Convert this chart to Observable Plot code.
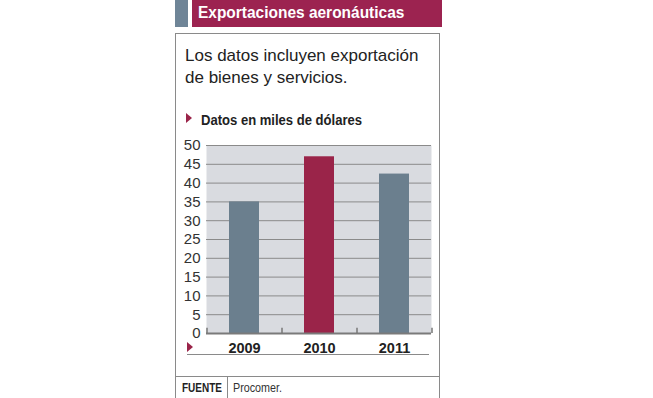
<!DOCTYPE html>
<html>
<head>
<meta charset="utf-8">
<script src="https://cdn.jsdelivr.net/npm/d3@7"></script>
<script src="https://cdn.jsdelivr.net/npm/@observablehq/plot@0.6"></script>
<style>
  html, body { margin: 0; padding: 0; background: #fff; }
  #wrap { position: relative; width: 653px; height: 398px; overflow: hidden; font-family: "Liberation Sans", Arial, sans-serif; }
  .abs { position: absolute; }
  #grayblock { left: 175px; top: 0; width: 13px; height: 27px; background: #6f8597; }
  #titlebar { left: 192px; top: 0; width: 250px; height: 27px; background: #9c2350; }
  #title { left: 198px; top: 3px; color: #fff; font-weight: bold; font-size: 17px; white-space: nowrap; transform-origin: 0 0; transform: scaleX(0.91); }
  #box { left: 175px; top: 33px; width: 265px; height: 370px; border: 1px solid #8a8a8a; box-sizing: border-box; }
  #sub { left: 185px; top: 45px; font-size: 17px; line-height: 22px; color: #222; white-space: nowrap; }
  #unitTri { left: 186px; top: 113px; width: 0; height: 0; border-top: 5.5px solid transparent; border-bottom: 5.5px solid transparent; border-left: 6px solid #9a2449; }
  #unit { left: 201px; top: 111.5px; font-weight: bold; font-size: 14.5px; color: #222; white-space: nowrap; transform-origin: 0 0; transform: scaleX(0.9); }
  #xTri { left: 187px; top: 342px; width: 0; height: 0; border-top: 5px solid transparent; border-bottom: 5px solid transparent; border-left: 6px solid #9a2449; }
  #xline { left: 187px; top: 354px; width: 242px; height: 1px; background: #8a8a8a; }
  #srcline { left: 175px; top: 376px; width: 265px; height: 1px; background: #8a8a8a; }
  #srcdiv { left: 227px; top: 376px; width: 1px; height: 22px; background: #8a8a8a; }
  #fuente { left: 182px; top: 381px; font-weight: bold; font-size: 12.5px; color: #222; transform-origin: 0 0; transform: scaleX(0.8); }
  #proc { left: 233px; top: 381px; font-size: 12.5px; color: #333; transform-origin: 0 0; transform: scaleX(0.86); }
  #chart { left: 175px; top: 135px; }
</style>
</head>
<body>
<div id="wrap">
  <div id="grayblock" class="abs"></div>
  <div id="titlebar" class="abs"></div>
  <div id="title" class="abs">Exportaciones aeronáuticas</div>
  <div id="box" class="abs"></div>
  <div id="sub" class="abs">Los datos incluyen exportación<br>de bienes y servicios.</div>
  <div id="unitTri" class="abs"></div>
  <div id="unit" class="abs">Datos en miles de dólares</div>
  <div id="chart" class="abs"></div>
  <div id="xTri" class="abs"></div>
  <div id="xline" class="abs"></div>
  <div id="srcline" class="abs"></div>
  <div id="srcdiv" class="abs"></div>
  <div id="fuente" class="abs">FUENTE</div>
  <div id="proc" class="abs">Procomer.</div>
</div>
<script>
const years = ["2009", "2010", "2011"];
const values = [35, 47, 42.4];
const barColors = ["#6b7f8e", "#9a2449", "#6b7f8e"];
const yTicks = [0, 5, 10, 15, 20, 25, 30, 35, 40, 45, 50];

const data = years.map((y, i) => ({year: y, value: values[i], color: barColors[i]}));

const chart = Plot.plot({
  width: 266,
  height: 225,
  marginLeft: 31,
  marginRight: 10,
  marginTop: 10,
  marginBottom: 27,
  style: {fontFamily: "Liberation Sans, Arial, sans-serif", background: "transparent", overflow: "visible"},
  x: {domain: years, paddingInner: 0.6, paddingOuter: 0.3},
  y: {domain: [0, 50], ticks: yTicks},
  marks: [
    Plot.frame({fill: "#d9dbe0", stroke: null}),
    Plot.ruleY(yTicks.filter(d => d > 0), {stroke: "#8a8a8a", strokeWidth: 1}),
    Plot.barY(data, {x: "year", y: "value", fill: "color"}),
    Plot.ruleY([0], {stroke: "#7a7a7a", strokeWidth: 2}),
    Plot.ruleX(years, {x: d => d, y1: 0, y2: 1.4, dx: -37.5, stroke: "#777", strokeWidth: 1.5}),
    Plot.ruleX([years[years.length - 1]], {x: d => d, y1: 0, y2: 1.4, dx: 37.5, stroke: "#777", strokeWidth: 1.5}),
    Plot.axisY({ticks: yTicks, tickSize: 0, tickPadding: 6, fontSize: 15, fill: "#333", label: null}),
    Plot.axisX({tickSize: 0, tickPadding: 9, fontSize: 14.5, fontWeight: "bold", fill: "#222", label: null})
  ]
});
document.getElementById("chart").appendChild(chart);
</script>
</body>
</html>
